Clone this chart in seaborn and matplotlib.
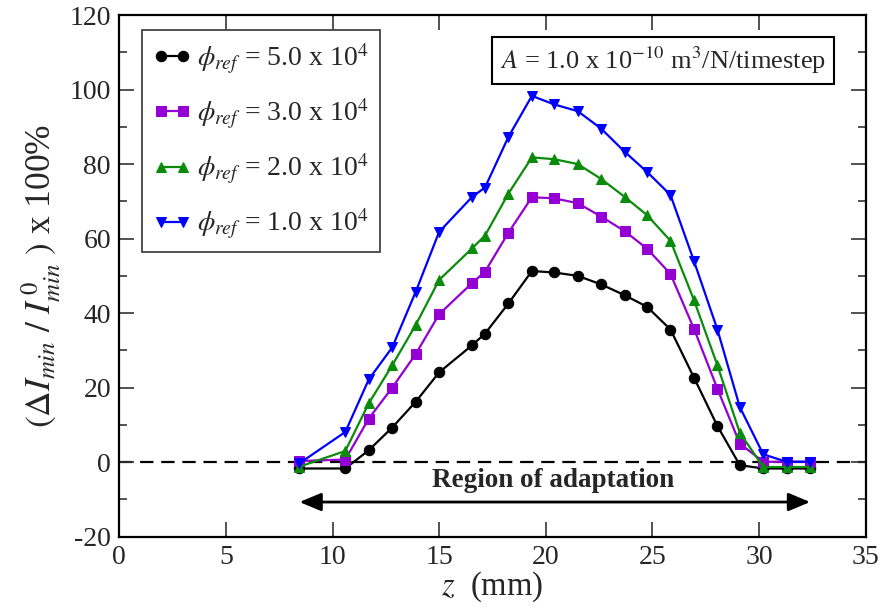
import matplotlib
matplotlib.use("Agg")
import matplotlib.pyplot as plt
import seaborn as sns
import numpy as np
import pandas as pd

# ---- data ----
z_mm = [8.45, 10.6, 11.7, 12.8, 13.9, 15.0, 16.55, 17.15, 18.25, 19.35, 20.4,
        21.5, 22.6, 23.7, 24.75, 25.85, 26.95, 28.05, 29.1, 30.2, 31.3, 32.4]
phi_5e4 = [-1.7, -1.7, 3.2, 9.3, 16.2, 24.1, 31.4, 34.5, 42.6, 51.3, 50.9,
           50.0, 47.7, 44.8, 41.7, 35.6, 22.7, 9.7, -0.8, -1.7, -1.7, -1.7]
phi_3e4 = [0.3, 0.7, 11.7, 20.0, 29.0, 39.7, 48.1, 51.1, 61.6, 71.1, 70.8,
           69.5, 65.9, 62.0, 57.3, 50.5, 35.8, 19.7, 5.0, 0.1, 0.1, 0.1]
phi_2e4 = [-1.2, 3.0, 15.8, 26.0, 36.8, 48.9, 57.4, 60.8, 72.1, 81.8, 81.3,
           80.0, 76.0, 71.2, 66.3, 59.4, 43.5, 26.0, 7.9, -1.3, -1.3, -1.3]
phi_1e4 = [-0.3, 8.1, 22.2, 30.8, 45.7, 61.8, 71.2, 73.7, 87.3, 98.3, 96.0,
           94.2, 89.5, 83.3, 77.9, 71.7, 54.0, 35.6, 14.8, 2.1, 0.1, 0.1]
series_labels = [r"$\phi_{ref}$ = 5.0 x 10$^4$", r"$\phi_{ref}$ = 3.0 x 10$^4$",
                 r"$\phi_{ref}$ = 2.0 x 10$^4$", r"$\phi_{ref}$ = 1.0 x 10$^4$"]
series_values = [phi_5e4, phi_3e4, phi_2e4, phi_1e4]
colors = ["black", "#9400d3", "#0a8c0a", "#0000ff"]
markers = ["o", "s", "^", "v"]
region_start, region_end = 8.45, 32.4
x_ticks = [0, 5, 10, 15, 20, 25, 30, 35]
y_ticks = [-20, 0, 20, 40, 60, 80, 100, 120]

sns.set_style("ticks")
plt.rcParams["font.family"] = ["Liberation Serif", "DejaVu Serif"]
plt.rcParams["mathtext.fontset"] = "stix"
plt.rcParams["axes.unicode_minus"] = False

fig = plt.figure(figsize=(8.83, 6.08), dpi=100)
ax = fig.add_axes([0.1351, 0.1173, 0.9803 - 0.1351, 0.9753 - 0.1173])

for lab, vals, c, m in zip(series_labels, series_values, colors, markers):
    df = pd.DataFrame({"z": z_mm, "v": vals})
    sns.lineplot(data=df, x="z", y="v", ax=ax, color=c, marker=m, markersize=7.5,
                 markeredgecolor=c, linewidth=1.6, label=lab, sort=False)

ax.axhline(0, color="black", linestyle=(0, (6, 3.5)), linewidth=1.6, zorder=0)

ax.annotate("", xy=(region_start, -10.7), xytext=(region_end, -10.7),
            arrowprops=dict(arrowstyle="<|-|>,head_length=0.6,head_width=0.25",
                            color="black", lw=2,
                            mutation_scale=22, shrinkA=0, shrinkB=0))
ax.text(20.35, -5, "Region of adaptation", ha="center", va="center",
        fontsize=19.5, fontweight="bold")

ax.text(25.5, 107.9, r"$A$ = 1.0 x 10$^{-10}$ m$^3$/N/timestep", ha="center",
        va="center", fontsize=19,
        bbox=dict(boxstyle="square,pad=0.3", fc="white", ec="black", lw=1.5))

ax.set_xlim(0, 35)
ax.set_ylim(-20, 120)
ax.set_xticks(x_ticks)
ax.set_yticks(y_ticks)
ax.set_yticks(np.arange(-10, 120, 20), minor=True)
ax.tick_params(which="both", direction="in", top=True, right=True, labelsize=20,
               width=1.2, color="#333333")
ax.tick_params(which="major", length=11, pad=6)
ax.tick_params(which="minor", length=5.5)
for s in ax.spines.values():
    s.set_linewidth(1.6)
    s.set_color("black")

ax.set_xlabel(r"$z$  (mm)", fontsize=23.5, labelpad=0)
ax.set_ylabel(r"$(\Delta I_{min}\ /\ I^{\,0}_{min}\ )$ x 100%", fontsize=25.5,
              labelpad=4)

leg = ax.legend(loc="upper left", bbox_to_anchor=(0.03, 0.971), numpoints=2,
                fontsize=20, handlelength=1.4, handletextpad=0.2,
                labelspacing=0.75, borderpad=0.4, fancybox=False,
                framealpha=1, edgecolor="#444444", borderaxespad=0)
leg.get_frame().set_linewidth(1.3)

fig.savefig("out.png", dpi=100)
